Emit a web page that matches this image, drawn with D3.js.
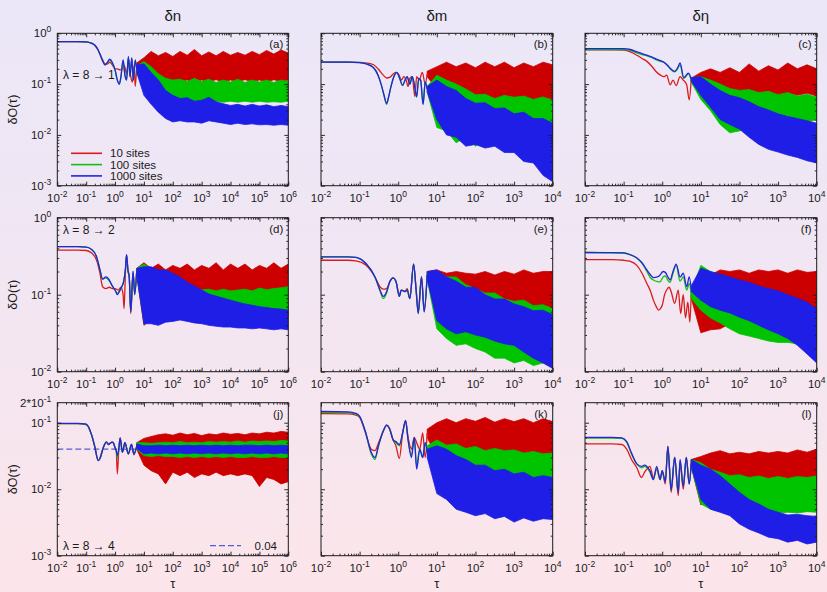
<!DOCTYPE html>
<html>
<head>
<meta charset="utf-8">
<script src="https://cdn.jsdelivr.net/npm/d3@7"></script>
<style>
    html, body { margin: 0; padding: 0; }
    svg { display: block; font-family: "Liberation Sans", Arial, sans-serif; }
</style>
</head>
<body>
<svg id="chart" width="827" height="592"></svg>
<script>
// ---- tick labels / categories ----
const columnTitles = ['δn', 'δm', 'δη'];
const panelLetters = ['(a)', '(b)', '(c)', '(d)', '(e)', '(f)', '(j)', '(k)', '(l)'];
const quenchLabels = ['λ = 8 → 1', 'λ = 8 → 2', 'λ = 8 → 4'];
const seriesNames = ['10 sites', '100 sites', '1000 sites'];
const xExpLong = [-2, -1, 0, 1, 2, 3, 4, 5, 6];
const xExpShort = [-2, -1, 0, 1, 2, 3, 4];
const yExpRow1 = [0, -1, -2, -3];
const yExpRow2 = [0, -1, -2];
const yExpRow3 = [-1, -2, -3];
const plateau = 0.04;

// tau grids for the noisy part
const gridLong = [5.62, 10, 17.8, 31.6, 56.2, 100, 178, 316, 562, 1e3, 1.78e3, 3.16e3, 5.62e3, 1e4,
    1.78e4, 3.16e4, 5.62e4, 1e5, 1.78e5, 3.16e5, 5.62e5, 1e6];
const gridShort = [5.62, 10, 17.8, 31.6, 56.2, 100, 178, 316, 562, 1e3, 1.78e3, 3.16e3, 5.62e3, 1e4];

// ---- (a) ----
const aRedLine = [[0.01, 0.686], [0.05, 0.685], [0.1, 0.68], [0.15, 0.64], [0.2, 0.58], [0.25, 0.48], [0.3, 0.39], [0.37, 0.3],
    [0.45, 0.25], [0.55, 0.25], [0.65, 0.27], [0.8, 0.24], [1.0, 0.2], [1.2, 0.2], [1.5, 0.19], [1.8, 0.2], [2.1, 0.23],
    [2.5, 0.16], [3.0, 0.3], [3.5, 0.14], [4.0, 0.11], [4.6, 0.24], [5.0, 0.09], [5.62, 0.22]];
const aGreenLine = [[0.01, 0.686], [0.05, 0.685], [0.1, 0.68], [0.15, 0.64], [0.2, 0.58], [0.25, 0.49], [0.3, 0.39], [0.37, 0.29],
    [0.45, 0.24], [0.55, 0.26], [0.65, 0.3], [0.8, 0.26], [1.0, 0.19], [1.2, 0.12], [1.4, 0.1], [1.6, 0.14], [1.9, 0.29],
    [2.2, 0.15], [2.5, 0.12], [2.9, 0.34], [3.3, 0.14], [3.8, 0.32], [4.3, 0.12], [5.0, 0.29], [5.62, 0.2]];
const aBlueLine = [[0.01, 0.686], [0.05, 0.685], [0.1, 0.68], [0.15, 0.64], [0.2, 0.58], [0.25, 0.49], [0.3, 0.39], [0.37, 0.29],
    [0.45, 0.24], [0.55, 0.27], [0.65, 0.31], [0.8, 0.27], [1.0, 0.19], [1.2, 0.12], [1.4, 0.1], [1.6, 0.14], [1.9, 0.3],
    [2.2, 0.15], [2.5, 0.12], [2.9, 0.35], [3.3, 0.14], [3.8, 0.33], [4.3, 0.12], [5.0, 0.3], [5.62, 0.2]];
const aRedHi = [0.26, 0.33, 0.44, 0.36, 0.42, 0.35, 0.44, 0.37, 0.48, 0.36, 0.43, 0.36, 0.44, 0.37, 0.42, 0.37, 0.44, 0.38, 0.46, 0.39, 0.47, 0.41];
const aRedLo = [0.18, 0.12, 0.115, 0.125, 0.11, 0.12, 0.112, 0.12, 0.108, 0.12, 0.112, 0.122, 0.11, 0.12, 0.112, 0.122, 0.112, 0.12, 0.11, 0.122, 0.112, 0.12];
const aGreenHi = [0.23, 0.28, 0.22, 0.16, 0.13, 0.12, 0.125, 0.112, 0.13, 0.112, 0.125, 0.108, 0.12, 0.11, 0.125, 0.108, 0.12, 0.11, 0.12, 0.108, 0.12, 0.112];
const aGreenLo = [0.17, 0.08, 0.07, 0.062, 0.055, 0.05, 0.047, 0.049, 0.045, 0.047, 0.044, 0.046, 0.044, 0.046, 0.044, 0.046, 0.044, 0.046, 0.044, 0.045, 0.044, 0.046];
const aBlueHi = [0.24, 0.25, 0.17, 0.12, 0.075, 0.06, 0.052, 0.054, 0.046, 0.048, 0.055, 0.045, 0.041, 0.038, 0.04, 0.037, 0.04, 0.037, 0.039, 0.036, 0.038, 0.036];
const aBlueLo = [0.17, 0.06, 0.04, 0.028, 0.021, 0.018, 0.019, 0.018, 0.018, 0.017, 0.019, 0.018, 0.017, 0.016, 0.017, 0.016, 0.0165, 0.0158, 0.016, 0.0155, 0.016, 0.0155];

// ---- (b) ----
const bRedLine = [[0.01, 0.27], [0.05, 0.27], [0.1, 0.268], [0.15, 0.26], [0.23, 0.24], [0.3, 0.2], [0.41, 0.15], [0.5, 0.132],
    [0.6, 0.135], [0.75, 0.16], [0.9, 0.17], [1.05, 0.15], [1.2, 0.12], [1.4, 0.14], [1.6, 0.12], [1.8, 0.09], [2.0, 0.13],
    [2.3, 0.14], [2.7, 0.057], [3.0, 0.14], [3.5, 0.12], [4.2, 0.17], [5.0, 0.1], [5.62, 0.16]];
const bGreenLine = [[0.01, 0.27], [0.05, 0.27], [0.1, 0.265], [0.15, 0.25], [0.23, 0.21], [0.3, 0.15], [0.36, 0.1], [0.42, 0.063],
    [0.5, 0.04], [0.56, 0.054], [0.65, 0.09], [0.8, 0.15], [0.92, 0.17], [1.05, 0.14], [1.3, 0.093], [1.5, 0.12], [1.7, 0.14],
    [2.0, 0.1], [2.3, 0.14], [2.6, 0.1], [3.0, 0.055], [3.4, 0.13], [3.8, 0.12], [4.4, 0.04], [5.0, 0.11], [5.62, 0.08]];
const bBlueLine = [[0.01, 0.27], [0.05, 0.27], [0.1, 0.265], [0.15, 0.25], [0.23, 0.21], [0.3, 0.15], [0.36, 0.1], [0.42, 0.065],
    [0.5, 0.042], [0.56, 0.055], [0.65, 0.09], [0.8, 0.15], [0.92, 0.17], [1.05, 0.14], [1.3, 0.095], [1.5, 0.12], [1.7, 0.14],
    [2.0, 0.1], [2.3, 0.14], [2.6, 0.1], [3.0, 0.057], [3.4, 0.13], [3.8, 0.12], [4.4, 0.04], [5.0, 0.11], [5.62, 0.08]];
const bRedHi = [0.18, 0.22, 0.27, 0.22, 0.26, 0.21, 0.27, 0.22, 0.27, 0.21, 0.26, 0.22, 0.27, 0.24];
const bRedLo = [0.14, 0.08, 0.065, 0.056, 0.058, 0.051, 0.056, 0.05, 0.055, 0.05, 0.056, 0.049, 0.054, 0.05];
const bGreenHi = [0.09, 0.15, 0.12, 0.1, 0.08, 0.062, 0.063, 0.052, 0.06, 0.055, 0.058, 0.05, 0.056, 0.048];
const bGreenLo = [0.07, 0.014, 0.012, 0.007, 0.009, 0.006, 0.008, 0.007, 0.009, 0.008, 0.011, 0.009, 0.01, 0.0095];
const bBlueHi = [0.09, 0.12, 0.09, 0.075, 0.052, 0.042, 0.043, 0.033, 0.034, 0.026, 0.028, 0.021, 0.021, 0.017];
const bBlueLo = [0.07, 0.02, 0.01, 0.009, 0.006, 0.0065, 0.0055, 0.006, 0.0045, 0.0045, 0.003, 0.0028, 0.0016, 0.0012];

// ---- (c) ----
const cRedLine = [[0.01, 0.47], [0.05, 0.47], [0.1, 0.465], [0.15, 0.43], [0.22, 0.37], [0.3, 0.32], [0.4, 0.28], [0.55, 0.22],
    [0.7, 0.175], [0.9, 0.15], [1.1, 0.14], [1.3, 0.15], [1.6, 0.097], [1.9, 0.12], [2.3, 0.093], [2.9, 0.14], [3.5, 0.12],
    [4.3, 0.097], [5.0, 0.049], [5.62, 0.12]];
const cGreenLine = [[0.01, 0.48], [0.1, 0.478], [0.15, 0.46], [0.22, 0.41], [0.3, 0.38], [0.4, 0.36], [0.55, 0.33], [0.7, 0.3],
    [0.9, 0.28], [1.1, 0.27], [1.4, 0.23], [1.6, 0.2], [2.1, 0.175], [2.5, 0.2], [2.9, 0.24], [3.6, 0.13], [4.8, 0.16], [5.62, 0.12]];
const cBlueLine = [[0.01, 0.5], [0.1, 0.498], [0.15, 0.48], [0.22, 0.43], [0.3, 0.4], [0.4, 0.37], [0.55, 0.34], [0.7, 0.31],
    [0.9, 0.29], [1.1, 0.27], [1.4, 0.23], [1.6, 0.205], [2.1, 0.178], [2.5, 0.21], [2.9, 0.26], [3.6, 0.135], [4.8, 0.165], [5.62, 0.125]];
const cRedHi = [0.13, 0.17, 0.2, 0.17, 0.21, 0.17, 0.25, 0.18, 0.23, 0.19, 0.26, 0.2, 0.24, 0.2];
const cRedLo = [0.11, 0.06, 0.068, 0.06, 0.07, 0.059, 0.068, 0.06, 0.066, 0.058, 0.066, 0.06, 0.066, 0.058];
const cGreenHi = [0.13, 0.14, 0.12, 0.1, 0.082, 0.075, 0.078, 0.068, 0.072, 0.062, 0.068, 0.058, 0.063, 0.055];
const cGreenLo = [0.11, 0.05, 0.03, 0.016, 0.011, 0.012, 0.013, 0.015, 0.016, 0.018, 0.017, 0.019, 0.018, 0.02];
const cBlueHi = [0.135, 0.14, 0.1, 0.075, 0.06, 0.054, 0.045, 0.036, 0.031, 0.026, 0.023, 0.021, 0.019, 0.017];
const cBlueLo = [0.115, 0.06, 0.035, 0.02, 0.016, 0.013, 0.009, 0.0065, 0.0052, 0.0046, 0.004, 0.0036, 0.0031, 0.0028];

// ---- (d) ----
const dRedLine = [[0.01, 0.38], [0.05, 0.38], [0.1, 0.375], [0.15, 0.35], [0.23, 0.28], [0.3, 0.19], [0.37, 0.127], [0.48, 0.12],
    [0.65, 0.125], [0.8, 0.12], [1.0, 0.12], [1.3, 0.115], [1.6, 0.125], [1.9, 0.1], [2.05, 0.066], [2.3, 0.2], [2.5, 0.33],
    [2.8, 0.2], [3.1, 0.17], [3.5, 0.057], [4.2, 0.19], [4.8, 0.11], [5.62, 0.2]];
const dGreenLine = [[0.01, 0.42], [0.05, 0.42], [0.1, 0.415], [0.15, 0.39], [0.23, 0.31], [0.3, 0.21], [0.37, 0.16], [0.48, 0.165],
    [0.6, 0.155], [0.8, 0.13], [1.0, 0.115], [1.2, 0.105], [1.4, 0.11], [1.7, 0.125], [2.0, 0.15], [2.3, 0.22], [2.5, 0.32],
    [2.8, 0.21], [3.1, 0.17], [3.5, 0.06], [4.2, 0.2], [4.8, 0.1], [5.62, 0.2]];
const dBlueLine = [[0.01, 0.42], [0.05, 0.42], [0.1, 0.415], [0.15, 0.39], [0.23, 0.31], [0.3, 0.21], [0.37, 0.16], [0.48, 0.17],
    [0.6, 0.16], [0.8, 0.13], [1.0, 0.115], [1.2, 0.1], [1.4, 0.11], [1.7, 0.127], [2.0, 0.15], [2.3, 0.22], [2.5, 0.33],
    [2.8, 0.21], [3.1, 0.17], [3.5, 0.06], [4.2, 0.2], [4.8, 0.1], [5.62, 0.2]];
const dRedHi = [0.22, 0.26, 0.22, 0.25, 0.21, 0.24, 0.22, 0.25, 0.21, 0.24, 0.22, 0.26, 0.21, 0.25, 0.22, 0.25, 0.21, 0.24, 0.22, 0.26, 0.22, 0.25];
const dRedLo = [0.18, 0.04, 0.048, 0.042, 0.048, 0.054, 0.052, 0.058, 0.055, 0.06, 0.055, 0.059, 0.053, 0.058, 0.054, 0.057, 0.053, 0.056, 0.052, 0.055, 0.05, 0.052];
const dGreenHi = [0.22, 0.25, 0.22, 0.2, 0.18, 0.17, 0.15, 0.13, 0.12, 0.115, 0.118, 0.112, 0.118, 0.112, 0.115, 0.118, 0.112, 0.122, 0.116, 0.12, 0.123, 0.127];
const dGreenLo = [0.18, 0.045, 0.046, 0.05, 0.048, 0.05, 0.052, 0.055, 0.056, 0.057, 0.058, 0.057, 0.058, 0.057, 0.058, 0.057, 0.058, 0.057, 0.058, 0.057, 0.058, 0.057];
const dBlueHi = [0.22, 0.23, 0.23, 0.21, 0.21, 0.19, 0.17, 0.145, 0.13, 0.115, 0.102, 0.096, 0.09, 0.085, 0.08, 0.076, 0.073, 0.07, 0.068, 0.066, 0.065, 0.063];
const dBlueLo = [0.18, 0.042, 0.042, 0.04, 0.044, 0.045, 0.047, 0.045, 0.043, 0.042, 0.04, 0.039, 0.038, 0.038, 0.037, 0.037, 0.036, 0.037, 0.036, 0.035, 0.036, 0.035];

// ---- (e) ----
const eRedLine = [[0.01, 0.28], [0.05, 0.28], [0.08, 0.275], [0.15, 0.24], [0.25, 0.17], [0.34, 0.126], [0.41, 0.118], [0.5, 0.12],
    [0.6, 0.146], [0.74, 0.165], [0.87, 0.15], [1.07, 0.1], [1.2, 0.115], [1.5, 0.11], [1.7, 0.12], [2.0, 0.09], [2.5, 0.25],
    [2.9, 0.12], [3.3, 0.06], [4.0, 0.17], [4.7, 0.065], [5.62, 0.18]];
const eGreenLine = [[0.01, 0.31], [0.05, 0.31], [0.08, 0.305], [0.15, 0.25], [0.25, 0.17], [0.34, 0.11], [0.41, 0.089], [0.5, 0.105],
    [0.6, 0.146], [0.74, 0.165], [0.87, 0.15], [1.07, 0.095], [1.2, 0.115], [1.5, 0.11], [1.7, 0.115], [2.0, 0.089], [2.5, 0.25],
    [2.9, 0.115], [3.3, 0.057], [4.0, 0.17], [4.7, 0.06], [5.62, 0.18]];
const eBlueLine = [[0.01, 0.31], [0.05, 0.31], [0.08, 0.305], [0.15, 0.25], [0.25, 0.17], [0.34, 0.114], [0.41, 0.095], [0.5, 0.11],
    [0.6, 0.146], [0.74, 0.165], [0.87, 0.15], [1.07, 0.095], [1.2, 0.115], [1.5, 0.11], [1.7, 0.115], [2.0, 0.089], [2.5, 0.25],
    [2.9, 0.115], [3.3, 0.057], [4.0, 0.17], [4.7, 0.06], [5.62, 0.18]];
const eRedHi = [0.2, 0.21, 0.19, 0.2, 0.19, 0.185, 0.2, 0.18, 0.2, 0.185, 0.21, 0.19, 0.2, 0.2];
const eRedLo = [0.16, 0.05, 0.06, 0.068, 0.065, 0.068, 0.062, 0.065, 0.059, 0.063, 0.058, 0.062, 0.057, 0.06];
const eGreenHi = [0.2, 0.2, 0.17, 0.17, 0.135, 0.12, 0.105, 0.105, 0.088, 0.082, 0.085, 0.072, 0.074, 0.066];
const eGreenLo = [0.16, 0.036, 0.027, 0.022, 0.023, 0.02, 0.018, 0.015, 0.015, 0.013, 0.014, 0.012, 0.013, 0.012];
const eBlueHi = [0.2, 0.21, 0.17, 0.15, 0.125, 0.125, 0.1, 0.088, 0.088, 0.076, 0.07, 0.062, 0.063, 0.055];
const eBlueLo = [0.16, 0.046, 0.036, 0.031, 0.033, 0.03, 0.028, 0.025, 0.023, 0.022, 0.018, 0.015, 0.013, 0.011];

// ---- (f) ----
const fRedLine = [[0.01, 0.286], [0.05, 0.285], [0.1, 0.28], [0.15, 0.27], [0.22, 0.24], [0.3, 0.19], [0.4, 0.14], [0.5, 0.11],
    [0.59, 0.085], [0.7, 0.07], [0.8, 0.063], [0.9, 0.066], [1.0, 0.073], [1.15, 0.1], [1.3, 0.115], [1.5, 0.125], [1.7, 0.11],
    [2.1, 0.077], [2.6, 0.115], [3.0, 0.057], [3.5, 0.1], [4.0, 0.05], [4.6, 0.08], [5.2, 0.044], [5.62, 0.1]];
const fGreenLine = [[0.01, 0.353], [0.1, 0.348], [0.15, 0.33], [0.22, 0.3], [0.3, 0.255], [0.4, 0.2], [0.5, 0.165], [0.59, 0.155],
    [0.75, 0.148], [0.88, 0.147], [1.05, 0.17], [1.2, 0.175], [1.45, 0.15], [1.6, 0.145], [1.9, 0.19], [2.3, 0.24], [2.9, 0.15],
    [3.5, 0.17], [4.3, 0.115], [5.0, 0.14], [5.62, 0.1]];
const fBlueLine = [[0.01, 0.353], [0.05, 0.352], [0.1, 0.35], [0.15, 0.33], [0.22, 0.3], [0.3, 0.26], [0.4, 0.21], [0.5, 0.18],
    [0.59, 0.167], [0.75, 0.17], [0.88, 0.18], [1.05, 0.2], [1.2, 0.195], [1.45, 0.165], [1.6, 0.155], [1.9, 0.2], [2.3, 0.25],
    [2.9, 0.17], [3.5, 0.19], [4.3, 0.127], [5.0, 0.17], [5.62, 0.12]];
const fRedHi = [0.11, 0.2, 0.18, 0.21, 0.2, 0.21, 0.19, 0.21, 0.2, 0.21, 0.19, 0.21, 0.195, 0.2];
const fRedLo = [0.09, 0.032, 0.035, 0.036, 0.042, 0.046, 0.05, 0.055, 0.059, 0.062, 0.06, 0.063, 0.062, 0.063];
const fGreenHi = [0.11, 0.24, 0.2, 0.18, 0.155, 0.13, 0.12, 0.1, 0.09, 0.08, 0.078, 0.071, 0.068, 0.063];
const fGreenLo = [0.09, 0.063, 0.05, 0.043, 0.036, 0.031, 0.029, 0.027, 0.025, 0.024, 0.024, 0.023, 0.022, 0.023];
const fBlueHi = [0.13, 0.22, 0.2, 0.185, 0.17, 0.155, 0.145, 0.13, 0.12, 0.112, 0.1, 0.09, 0.08, 0.065];
const fBlueLo = [0.11, 0.085, 0.07, 0.063, 0.058, 0.051, 0.046, 0.04, 0.035, 0.031, 0.027, 0.022, 0.017, 0.013];

// ---- (j) ----
const jRedLine = [[0.01, 0.097], [0.05, 0.097], [0.1, 0.094], [0.155, 0.065], [0.2, 0.043], [0.26, 0.027], [0.3, 0.029], [0.39, 0.042],
    [0.5, 0.051], [0.6, 0.047], [0.67, 0.049], [0.8, 0.051], [0.87, 0.05], [1.0, 0.042], [1.1, 0.038], [1.2, 0.017], [1.35, 0.04],
    [1.5, 0.059], [1.8, 0.036], [2.2, 0.05], [2.9, 0.034], [3.7, 0.047], [4.5, 0.033], [5.62, 0.045]];
const jGreenLine = [[0.01, 0.097], [0.05, 0.097], [0.1, 0.094], [0.155, 0.065], [0.2, 0.043], [0.26, 0.027], [0.3, 0.029], [0.39, 0.042],
    [0.5, 0.051], [0.6, 0.047], [0.67, 0.049], [0.8, 0.051], [0.87, 0.05], [1.0, 0.042], [1.1, 0.038], [1.2, 0.03], [1.35, 0.04],
    [1.5, 0.058], [1.8, 0.036], [2.2, 0.05], [2.9, 0.034], [3.7, 0.047], [4.5, 0.034], [5.62, 0.044]];
const jBlueLine = [[0.01, 0.098], [0.05, 0.098], [0.1, 0.095], [0.155, 0.065], [0.2, 0.043], [0.26, 0.027], [0.3, 0.029], [0.39, 0.042],
    [0.5, 0.051], [0.6, 0.047], [0.67, 0.049], [0.8, 0.051], [0.87, 0.05], [1.0, 0.042], [1.1, 0.038], [1.2, 0.032], [1.35, 0.04],
    [1.5, 0.059], [1.8, 0.036], [2.2, 0.05], [2.9, 0.034], [3.7, 0.047], [4.5, 0.034], [5.62, 0.044]];
const jRedHi = [0.05, 0.058, 0.062, 0.066, 0.068, 0.065, 0.07, 0.066, 0.069, 0.064, 0.068, 0.066, 0.07, 0.067, 0.069, 0.066, 0.07, 0.068, 0.072, 0.07, 0.074, 0.072];
const jRedLo = [0.04, 0.023, 0.019, 0.017, 0.012, 0.018, 0.016, 0.018, 0.015, 0.017, 0.016, 0.018, 0.016, 0.017, 0.016, 0.017, 0.016, 0.011, 0.015, 0.014, 0.012, 0.013];
const jGreenHi = [0.05, 0.05, 0.049, 0.05, 0.051, 0.05, 0.052, 0.05, 0.051, 0.05, 0.052, 0.051, 0.052, 0.051, 0.053, 0.051, 0.053, 0.052, 0.053, 0.052, 0.054, 0.053];
const jGreenLo = [0.04, 0.032, 0.031, 0.032, 0.031, 0.031, 0.03, 0.031, 0.03, 0.031, 0.03, 0.031, 0.03, 0.031, 0.03, 0.03, 0.031, 0.03, 0.03, 0.031, 0.03, 0.03];
const jBlueHi = [0.048, 0.045, 0.045, 0.046, 0.045, 0.046, 0.045, 0.046, 0.045, 0.046, 0.045, 0.046, 0.045, 0.046, 0.045, 0.046, 0.046, 0.045, 0.046, 0.045, 0.046, 0.045];
const jBlueLo = [0.041, 0.034, 0.035, 0.034, 0.035, 0.034, 0.035, 0.034, 0.035, 0.034, 0.035, 0.034, 0.035, 0.034, 0.035, 0.034, 0.035, 0.034, 0.035, 0.034, 0.035, 0.034];

// ---- (k) ----
const kRedLine = [[0.01, 0.137], [0.05, 0.136], [0.08, 0.13], [0.1, 0.12], [0.14, 0.072], [0.2, 0.04], [0.25, 0.038], [0.31, 0.05],
    [0.41, 0.075], [0.5, 0.091], [0.6, 0.082], [0.74, 0.055], [0.87, 0.045], [1.07, 0.029], [1.3, 0.07], [1.55, 0.105],
    [1.8, 0.06], [2.2, 0.04], [2.6, 0.06], [3.0, 0.05], [3.6, 0.04], [4.3, 0.07], [5.0, 0.03], [5.62, 0.07]];
const kGreenLine = [[0.01, 0.143], [0.05, 0.142], [0.08, 0.135], [0.1, 0.123], [0.14, 0.074], [0.2, 0.034], [0.25, 0.028], [0.31, 0.045],
    [0.41, 0.075], [0.5, 0.092], [0.6, 0.08], [0.74, 0.055], [0.87, 0.05], [1.07, 0.045], [1.3, 0.07], [1.55, 0.107],
    [1.8, 0.055], [2.2, 0.032], [2.6, 0.06], [3.0, 0.022], [3.6, 0.04], [4.3, 0.03], [5.0, 0.05], [5.62, 0.04]];
const kBlueLine = [[0.01, 0.148], [0.05, 0.146], [0.08, 0.138], [0.1, 0.125], [0.14, 0.075], [0.2, 0.036], [0.25, 0.03], [0.31, 0.046],
    [0.41, 0.075], [0.5, 0.092], [0.6, 0.08], [0.74, 0.055], [0.87, 0.052], [1.07, 0.047], [1.3, 0.07], [1.55, 0.108],
    [1.8, 0.055], [2.2, 0.03], [2.6, 0.06], [3.0, 0.02], [3.6, 0.04], [4.3, 0.03], [5.0, 0.05], [5.62, 0.035]];
const kRedHi = [0.08, 0.1, 0.115, 0.1, 0.115, 0.105, 0.12, 0.102, 0.115, 0.104, 0.115, 0.1, 0.115, 0.104];
const kRedLo = [0.06, 0.031, 0.027, 0.03, 0.027, 0.03, 0.027, 0.029, 0.027, 0.03, 0.027, 0.03, 0.027, 0.03];
const kGreenHi = [0.045, 0.055, 0.046, 0.048, 0.041, 0.044, 0.038, 0.041, 0.038, 0.039, 0.035, 0.037, 0.034, 0.035];
const kGreenLo = [0.035, 0.0098, 0.01, 0.008, 0.009, 0.0078, 0.0088, 0.008, 0.0085, 0.008, 0.0088, 0.0078, 0.0085, 0.008];
const kBlueHi = [0.04, 0.045, 0.04, 0.032, 0.028, 0.023, 0.023, 0.019, 0.02, 0.017, 0.018, 0.015, 0.016, 0.015];
const kBlueLo = [0.03, 0.0086, 0.007, 0.005, 0.0045, 0.004, 0.0043, 0.0036, 0.0039, 0.0032, 0.0037, 0.0033, 0.0036, 0.0035];

// ---- (l) ----
const lRedLine = [[0.01, 0.048], [0.05, 0.048], [0.09, 0.047], [0.12, 0.04], [0.16, 0.028], [0.22, 0.021], [0.29, 0.015], [0.35, 0.018],
    [0.4, 0.02], [0.48, 0.022], [0.59, 0.015], [0.72, 0.02], [0.88, 0.014], [1.0, 0.019], [1.2, 0.012], [1.4, 0.044], [1.7, 0.009],
    [2.1, 0.03], [2.6, 0.008], [2.9, 0.025], [3.5, 0.01], [4.2, 0.03], [5.0, 0.012], [5.62, 0.025]];
const lGreenLine = [[0.01, 0.0587], [0.05, 0.0587], [0.09, 0.058], [0.12, 0.051], [0.16, 0.034], [0.22, 0.024], [0.29, 0.021], [0.35, 0.022],
    [0.4, 0.021], [0.48, 0.018], [0.59, 0.014], [0.72, 0.021], [0.88, 0.014], [1.0, 0.018], [1.2, 0.013], [1.4, 0.043], [1.7, 0.0098],
    [2.1, 0.03], [2.6, 0.009], [2.9, 0.027], [3.5, 0.011], [4.2, 0.03], [5.0, 0.012], [5.62, 0.024]];
const lBlueLine = [[0.01, 0.06], [0.05, 0.06], [0.09, 0.059], [0.12, 0.052], [0.16, 0.035], [0.22, 0.024], [0.29, 0.022], [0.35, 0.023],
    [0.4, 0.022], [0.48, 0.019], [0.59, 0.014], [0.72, 0.022], [0.88, 0.014], [1.0, 0.019], [1.2, 0.013], [1.4, 0.044], [1.7, 0.0098],
    [2.1, 0.03], [2.6, 0.009], [2.9, 0.028], [3.5, 0.011], [4.2, 0.03], [5.0, 0.012], [5.62, 0.024]];
const lRedHi = [0.028, 0.031, 0.035, 0.038, 0.034, 0.036, 0.034, 0.037, 0.035, 0.037, 0.035, 0.039, 0.036, 0.04];
const lRedLo = [0.022, 0.0058, 0.007, 0.0078, 0.0088, 0.0095, 0.0095, 0.01, 0.0098, 0.0103, 0.01, 0.0108, 0.0105, 0.011];
const lGreenHi = [0.028, 0.025, 0.02, 0.018, 0.016, 0.0165, 0.015, 0.0158, 0.0145, 0.0155, 0.0145, 0.0155, 0.015, 0.0158];
const lGreenLo = [0.022, 0.006, 0.005, 0.0046, 0.0044, 0.0045, 0.0044, 0.0043, 0.0045, 0.0044, 0.0045, 0.0044, 0.0046, 0.0045];
const lBlueHi = [0.028, 0.023, 0.02, 0.016, 0.012, 0.009, 0.007, 0.006, 0.005, 0.0045, 0.0041, 0.0042, 0.004, 0.0039];
const lBlueLo = [0.022, 0.007, 0.005, 0.0045, 0.004, 0.003, 0.0025, 0.0022, 0.0019, 0.0018, 0.0016, 0.0017, 0.0015, 0.0016];

// ---- layout & style ----
const width = 827, height = 592;
const cols = [[57.3, 288.3], [321, 552.7], [585, 816.7]];
const rows = [[33.3, 185.7], [217.7, 371.7], [402.7, 555.7]];
const xDomains = [[1e-2, 1e6], [1e-2, 1e4], [1e-2, 1e4]];
const yDomains = [[1e-3, 1], [1e-2, 1], [1e-3, 0.2]];
const lineColors = ['#d81c1c', '#12bf12', '#2424e0'];
const bandColors = ['#cc0000', '#00c400', '#1e1ee6'];
const ink = '#1a1a1a';

const panels = [
    {col: 0, row: 0, grid: gridLong, s: [[aRedLine, aRedLo, aRedHi], [aGreenLine, aGreenLo, aGreenHi], [aBlueLine, aBlueLo, aBlueHi]]},
    {col: 1, row: 0, grid: gridShort, s: [[bRedLine, bRedLo, bRedHi], [bGreenLine, bGreenLo, bGreenHi], [bBlueLine, bBlueLo, bBlueHi]]},
    {col: 2, row: 0, grid: gridShort, s: [[cRedLine, cRedLo, cRedHi], [cGreenLine, cGreenLo, cGreenHi], [cBlueLine, cBlueLo, cBlueHi]]},
    {col: 0, row: 1, grid: gridLong, s: [[dRedLine, dRedLo, dRedHi], [dGreenLine, dGreenLo, dGreenHi], [dBlueLine, dBlueLo, dBlueHi]]},
    {col: 1, row: 1, grid: gridShort, s: [[eRedLine, eRedLo, eRedHi], [eGreenLine, eGreenLo, eGreenHi], [eBlueLine, eBlueLo, eBlueHi]]},
    {col: 2, row: 1, grid: gridShort, s: [[fRedLine, fRedLo, fRedHi], [fGreenLine, fGreenLo, fGreenHi], [fBlueLine, fBlueLo, fBlueHi]]},
    {col: 0, row: 2, grid: gridLong, s: [[jRedLine, jRedLo, jRedHi], [jGreenLine, jGreenLo, jGreenHi], [jBlueLine, jBlueLo, jBlueHi]]},
    {col: 1, row: 2, grid: gridShort, s: [[kRedLine, kRedLo, kRedHi], [kGreenLine, kGreenLo, kGreenHi], [kBlueLine, kBlueLo, kBlueHi]]},
    {col: 2, row: 2, grid: gridShort, s: [[lRedLine, lRedLo, lRedHi], [lGreenLine, lGreenLo, lGreenHi], [lBlueLine, lBlueLo, lBlueHi]]}
];

const svg = d3.select('#chart');

const defs = svg.append('defs');
const grad = defs.append('linearGradient').attr('id', 'bg')
    .attr('x1', 0).attr('y1', 0).attr('x2', 0).attr('y2', 1);
grad.append('stop').attr('offset', '0%').attr('stop-color', '#ebe7f8');
grad.append('stop').attr('offset', '50%').attr('stop-color', '#f2e6f2');
grad.append('stop').attr('offset', '100%').attr('stop-color', '#fce5ea');
svg.append('rect').attr('width', width).attr('height', height).attr('fill', 'url(#bg)');

function minorTicks(domain) {
    const out = [];
    const e0 = Math.floor(Math.log10(domain[0])), e1 = Math.ceil(Math.log10(domain[1]));
    for (let e = e0; e < e1; e++) {
        for (let m = 2; m <= 9; m++) {
            const v = m * Math.pow(10, e);
            if (v > domain[0] * 1.0001 && v < domain[1] * 0.9999) out.push(v);
        }
    }
    return out;
}

function majorTicks(domain) {
    const out = [];
    for (let e = Math.ceil(Math.log10(domain[0]) - 1e-9); Math.pow(10, e) <= domain[1] * 1.0001; e++) out.push(Math.pow(10, e));
    return out;
}

function tickAxis(g, axisFn, scale, values, size, transform) {
    g.append('g')
        .attr('transform', transform)
        .attr('color', ink)
        .call(axisFn(scale).tickValues(values).tickSize(-size).tickSizeOuter(0).tickFormat(''))
        .call(a => a.select('.domain').remove())
        .call(a => a.selectAll('line').attr('stroke-width', 0.9));
}

function powerLabel(g, x, y, exp, anchor, prefix) {
    const t = g.append('text').attr('x', x).attr('y', y)
        .attr('text-anchor', anchor).attr('font-size', 11.5).attr('fill', ink);
    t.append('tspan').text((prefix || '') + '10');
    t.append('tspan').attr('dy', -5).attr('font-size', 8.5).text(exp);
}

panels.forEach((p, i) => {
    const [x0, x1] = cols[p.col];
    const [y0, y1] = rows[p.row];
    const x = d3.scaleLog().domain(xDomains[p.col]).range([x0, x1]);
    const y = d3.scaleLog().domain(yDomains[p.row]).range([y1, y0]);
    const g = svg.append('g');

    const clipId = 'clip' + i;
    defs.append('clipPath').attr('id', clipId)
        .append('rect').attr('x', x0).attr('y', y0).attr('width', x1 - x0).attr('height', y1 - y0);
    const plot = g.append('g').attr('clip-path', `url(#${clipId})`);

    if (p.row === 2 && p.col === 0) {
        plot.append('line')
            .attr('x1', x0).attr('x2', x1).attr('y1', y(plateau)).attr('y2', y(plateau))
            .attr('stroke', '#5a5ad8').attr('stroke-width', 1.2).attr('stroke-dasharray', '6,3');
    }

    const area = d3.area().x(d => x(d[0])).y0(d => y(d[1])).y1(d => y(d[2]));
    const line = d3.line().x(d => x(d[0])).y(d => y(d[1])).curve(d3.curveMonotoneX);

    p.s.forEach(([pts, lo, hi], k) => {
        const band = p.grid.map((t, j) => [t, lo[j], hi[j]]);
        plot.append('path').datum(band)
            .attr('d', area)
            .attr('fill', bandColors[k])
            .attr('stroke', bandColors[k])
            .attr('stroke-width', 0.8)
            .attr('stroke-linejoin', 'miter');
        plot.append('path').datum(pts)
            .attr('d', line)
            .attr('fill', 'none')
            .attr('stroke', lineColors[k])
            .attr('stroke-width', 1.3);
    });

    // ticks on all four sides, pointing inward
    const xMaj = majorTicks(xDomains[p.col]), xMin = minorTicks(xDomains[p.col]);
    const yMaj = majorTicks(yDomains[p.row]), yMin = minorTicks(yDomains[p.row]);
    tickAxis(g, d3.axisBottom, x, xMaj, 4, `translate(0,${y1})`);
    tickAxis(g, d3.axisBottom, x, xMin, 2, `translate(0,${y1})`);
    tickAxis(g, d3.axisTop, x, xMaj, 4, `translate(0,${y0})`);
    tickAxis(g, d3.axisTop, x, xMin, 2, `translate(0,${y0})`);
    tickAxis(g, d3.axisLeft, y, yMaj, 4, `translate(${x0},0)`);
    tickAxis(g, d3.axisLeft, y, yMin, 2, `translate(${x0},0)`);
    tickAxis(g, d3.axisRight, y, yMaj, 4, `translate(${x1},0)`);
    tickAxis(g, d3.axisRight, y, yMin, 2, `translate(${x1},0)`);

    g.append('rect').attr('x', x0).attr('y', y0).attr('width', x1 - x0).attr('height', y1 - y0)
        .attr('fill', 'none').attr('stroke', ink).attr('stroke-width', 1);

    // x tick labels
    const xExps = p.col === 0 ? xExpLong : xExpShort;
    xExps.forEach(e => powerLabel(g, x(Math.pow(10, e)), y1 + 16, String(e), 'middle'));

    // y tick labels (left column only)
    if (p.col === 0) {
        const yExps = [yExpRow1, yExpRow2, yExpRow3][p.row];
        yExps.forEach(e => powerLabel(g, x0 - 6, y(Math.pow(10, e)) + 4, String(e), 'end'));
        if (p.row === 2) powerLabel(g, x0 - 6, y(0.2) + 4, '-1', 'end', '2*');
        g.append('text')
            .attr('transform', `translate(17,${(y0 + y1) / 2}) rotate(-90)`)
            .attr('text-anchor', 'middle').attr('font-size', 12.5).attr('fill', ink)
            .text('δO(τ)');
    }

    g.append('text').attr('x', x1 - 5).attr('y', y0 + 15)
        .attr('text-anchor', 'end').attr('font-size', 11.5).attr('fill', ink)
        .text(panelLetters[i]);

    if (p.row === 0) {
        g.append('text').attr('x', (x0 + x1) / 2).attr('y', 21)
            .attr('text-anchor', 'middle').attr('font-size', 15).attr('fill', ink)
            .text(columnTitles[p.col]);
    }
    if (p.row === 2) {
        g.append('text').attr('x', (x0 + x1) / 2).attr('y', 588)
            .attr('text-anchor', 'middle').attr('font-size', 13).attr('fill', ink)
            .text('τ');
    }
});

// quench labels
const lamY = [79, 234, 550];
lamY.forEach((yy, r) => {
    svg.append('text').attr('x', 63).attr('y', yy)
        .attr('font-size', 12).attr('fill', ink).text(quenchLabels[r]);
});

// legend in panel (a)
const legY = [153.3, 164.6, 175.9];
seriesNames.forEach((name, k) => {
    svg.append('line').attr('x1', 71).attr('x2', 102).attr('y1', legY[k]).attr('y2', legY[k])
        .attr('stroke', lineColors[k]).attr('stroke-width', 1.6);
    svg.append('text').attr('x', 110).attr('y', legY[k] + 4)
        .attr('font-size', 11.5).attr('fill', ink).text(name);
});

// plateau legend in panel (j)
svg.append('line').attr('x1', 210).attr('x2', 241).attr('y1', 545.7).attr('y2', 545.7)
    .attr('stroke', '#5a5ad8').attr('stroke-width', 1.2).attr('stroke-dasharray', '6,3');
svg.append('text').attr('x', 277).attr('y', 550).attr('text-anchor', 'end')
    .attr('font-size', 11.5).attr('fill', ink).text(String(plateau));
</script>
</body>
</html>
